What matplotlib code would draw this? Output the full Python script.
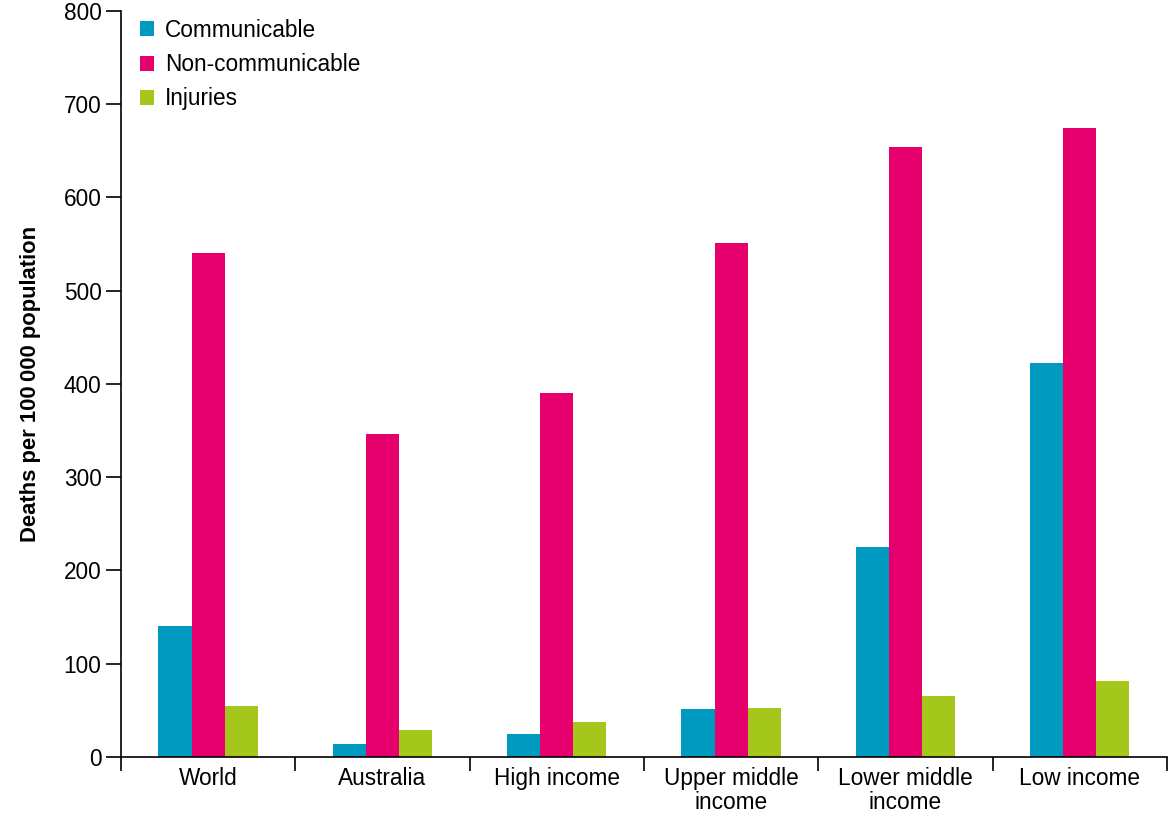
import numpy as np
import matplotlib.pyplot as plt

plt.rcParams['font.family'] = ['Liberation Sans', 'DejaVu Sans']

categories = ['World', 'Australia', 'High income', 'Upper middle\nincome',
              'Lower middle\nincome', 'Low income']
communicable = [140, 14, 25, 51, 225, 423]
non_communicable = [540, 346, 390, 551, 654, 674]
injuries = [55, 29, 37, 53, 65, 82]

series = [('Communicable', communicable, '#0099bf'),
          ('Non-communicable', non_communicable, '#e5006d'),
          ('Injuries', injuries, '#a5c71b')]

fig = plt.figure(figsize=(11.7, 8.13), dpi=100)
ax = fig.add_axes([0.1034, 0.0689, 0.894, 0.9176])

x = np.arange(len(categories))
w = 0.19
for i, (name, vals, col) in enumerate(series):
    ax.bar(x + (i - 1) * w, vals, width=w, color=col, label=name)

fs = 16.3
ax.set_xlim(-0.5, len(categories) - 0.5)
ax.set_ylim(0, 800)
ax.set_yticks(range(0, 801, 100))
ax.set_xticks(x)
ax.set_xticklabels(categories, fontsize=fs, linespacing=1.05)
ax.set_xticks(np.arange(-0.5, len(categories), 1), minor=True)
ax.tick_params(axis='x', which='major', length=0, pad=7)
ax.tick_params(axis='x', which='minor', length=10, width=1.2, direction='out')
ax.tick_params(axis='y', length=11, width=1.2, labelsize=fs, pad=3)

for s in ['top', 'right']:
    ax.spines[s].set_visible(False)
for s in ['left', 'bottom']:
    ax.spines[s].set_linewidth(1.2)

ax.set_ylabel('Deaths per 100\u2009000 population', fontsize=15.8,
              fontweight='bold', labelpad=16)

ax.legend(loc='upper left', frameon=False, fontsize=fs, handlelength=0.65,
          handleheight=0.65, handletextpad=0.45, labelspacing=0.5,
          bbox_to_anchor=(-0.008, 1.026), borderaxespad=0.8)

fig.savefig('out.png', dpi=100)
